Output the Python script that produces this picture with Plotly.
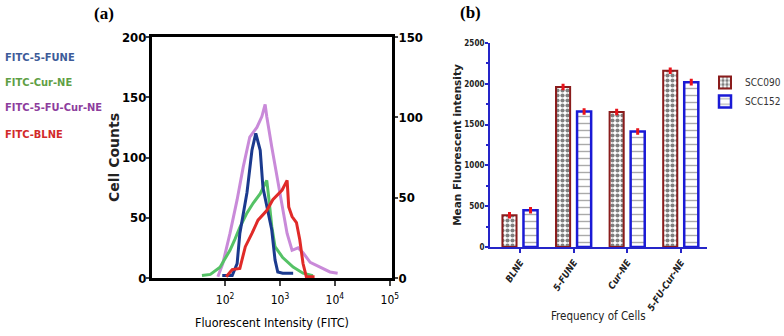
import plotly.graph_objects as go

# ---------------- Panel (a): flow cytometry histograms ----------------
blue_x = [89, 135, 166, 186, 251, 309, 363, 437, 490, 575, 708, 813, 912, 1122, 1738]
blue_y = [2, 2, 12, 37, 71, 106, 120, 106, 75, 59, 40, 15, 5, 4, 4]

green_x = [38, 54, 81, 123, 151, 186, 251, 324, 437, 537, 575, 631, 708, 813, 1122, 1738, 2630, 3981]
green_y = [2, 3, 9, 23, 32, 42, 54, 62, 70, 79, 81, 65, 43, 26, 17, 9, 4, 2]

purple_x = [74, 91, 123, 166, 214, 282, 380, 468, 537, 575, 708, 891, 1096, 1349, 1660, 2138, 2630, 3548, 5370, 8128, 11220]
purple_y = [1, 12, 37, 65, 92, 117, 125, 134, 144, 134, 109, 84, 59, 37, 23, 25, 21, 13, 9, 5, 4]

red_x = [105, 135, 186, 234, 309, 398, 575, 741, 1096, 1349, 1445, 1660, 1995, 2291, 2630, 3020, 4266]
red_y = [1, 7, 8, 26, 37, 48, 56, 65, 73, 81, 59, 51, 46, 32, 12, 1, 1]

series_names = ["FITC-5-FUNE", "FITC-Cur-NE", "FITC-5-FU-Cur-NE", "FITC-BLNE"]
series_x = [blue_x, green_x, purple_x, red_x]
series_y = [blue_y, green_y, purple_y, red_y]
line_colors = ["#1b3a8e", "#55c266", "#c98ad9", "#e02a28"]
label_colors = ["#3d5b99", "#5f9f45", "#8d3d9d", "#d22a2a"]
draw_order = [2, 1, 0, 3]

left_ticks = [0, 50, 100, 150, 200]
right_ticks = [0, 50, 100, 150]
x_tickvals = [100, 1000, 10000, 100000]
x_ticktext = ["10<sup>2</sup>", "10<sup>3</sup>", "10<sup>4</sup>", "10<sup>5</sup>"]

# ---------------- Panel (b): mean fluorescent intensity ----------------
categories = ["BLNE", "5-FUNE", "Cur-NE", "5-FU-Cur-NE"]
scc090 = [390, 1960, 1655, 2160]
scc152 = [450, 1660, 1415, 2020]
scc090_err = [22, 22, 22, 22]
scc152_err = [22, 22, 22, 22]
bar_ticks = [0, 500, 1000, 1500, 2000, 2500]

NARROW = "DejaVu Sans Condensed, Liberation Sans Narrow, Arial Narrow, sans-serif"
SERIF = "Liberation Serif, Times New Roman, serif"

fig = go.Figure()

for i in draw_order:
    fig.add_trace(go.Scatter(
        x=series_x[i], y=series_y[i], mode="lines", name=series_names[i],
        line=dict(color=line_colors[i], width=3), showlegend=False,
        xaxis="x", yaxis="y"))

# invisible trace for the right axis
fig.add_trace(go.Scatter(x=[1000], y=[0], mode="markers", marker=dict(opacity=0),
                         showlegend=False, hoverinfo="skip", xaxis="x", yaxis="y2"))

fig.add_trace(go.Bar(
    x=categories, y=scc090, name="SCC090", xaxis="x2", yaxis="y3",
    marker=dict(color="white", line=dict(color="#8a1c1c", width=2),
                pattern=dict(shape=".", fgcolor="black", bgcolor="white", size=5, solidity=0.55)),
    error_y=dict(type="data", array=scc090_err, color="#e8131b", thickness=3, width=1.5)))
fig.add_trace(go.Bar(
    x=categories, y=scc152, name="SCC152", xaxis="x2", yaxis="y3",
    marker=dict(color="white", line=dict(color="#1a1ad6", width=2.5),
                pattern=dict(shape="-", fgcolor="#555555", bgcolor="white", size=7, solidity=0.2)),
    error_y=dict(type="data", array=scc152_err, color="#e8131b", thickness=3, width=1.5)))

annotations = []
label_y = [57, 82, 108, 134]
for i, name in enumerate(series_names):
    annotations.append(dict(text="<b>%s</b>" % name, x=3 / 784, y=1 - label_y[i] / 336,
                            xref="paper", yref="paper", xanchor="left", yanchor="middle",
                            showarrow=False, font=dict(family=NARROW, size=11, color=label_colors[i])))
annotations.append(dict(text="<b>(a)</b>", x=104 / 784, y=1 - 14 / 336, xref="paper", yref="paper",
                        xanchor="center", yanchor="middle",
                        showarrow=False, font=dict(family=SERIF, size=17, color="black")))
annotations.append(dict(text="<b>(b)</b>", x=471 / 784, y=1 - 13 / 336, xref="paper", yref="paper",
                        xanchor="center", yanchor="middle",
                        showarrow=False, font=dict(family=SERIF, size=17, color="black")))
annotations.append(dict(text="Frequency of Cells", x=598 / 784, y=1 - 316 / 336, xref="paper", yref="paper",
                        xanchor="center", yanchor="middle",
                        showarrow=False, font=dict(family=NARROW, size=11.5, color="#222")))

BLUE = "#2525c8"

fig.update_layout(
    width=784, height=336, margin=dict(l=0, r=0, t=0, b=0, autoexpand=False),
    paper_bgcolor="white", plot_bgcolor="white",
    bargap=0.215, bargroupgap=0.33, barmode="group",
    annotations=annotations,
    xaxis=dict(domain=[152 / 784, 392 / 784], type="log", range=[0.67, 5.04],
               tickvals=x_tickvals, ticktext=x_ticktext, ticks="outside", ticklen=5, tickwidth=2,
               ticklabelstandoff=4,
               showline=True, linewidth=3, linecolor="black", mirror=True, showgrid=False, zeroline=False,
               tickfont=dict(family=NARROW, size=12, color="black"),
               title=dict(text="Fluorescent Intensity (FITC)", standoff=12,
                          font=dict(family=NARROW, size=12.5, color="black"))),
    yaxis=dict(domain=[1 - 278 / 336, 1 - 37 / 336], range=[0, 200], tickvals=left_ticks,
               ticks="outside", ticklen=3, tickwidth=2, showline=True, linewidth=3, linecolor="black",
               ticklabelstandoff=-3,
               showgrid=False, zeroline=False,
               tickfont=dict(family=NARROW, size=13, color="black", weight="bold"),
               title=dict(text="<b>Cell Counts</b>", standoff=0,
                          font=dict(family="DejaVu Sans", size=14, color="#222"))),
    yaxis2=dict(overlaying="y", side="right", anchor="x", range=[0, 150], tickvals=right_ticks,
                ticks="outside", ticklen=3, tickwidth=2, showline=True, linewidth=3, linecolor="black",
                ticklabelstandoff=-2,
                showgrid=False, zeroline=False,
                tickfont=dict(family=NARROW, size=13, color="black", weight="bold")),
    xaxis2=dict(domain=[490 / 784, 707 / 784], anchor="y3", range=[-0.56, 3.49],
                ticks="outside", ticklen=4, tickwidth=1.5, tickcolor=BLUE, tickangle=-57,
                showline=True, linewidth=2, linecolor=BLUE, showgrid=False, zeroline=False,
                tickfont=dict(family=NARROW, size=9.5, color="#222",
                              weight="bold", style="italic")),
    yaxis3=dict(domain=[1 - 247 / 336, 1 - 43 / 336], anchor="x2", range=[0, 2500], tickvals=bar_ticks,
                ticks="outside", ticklen=3, tickwidth=1.5, tickcolor=BLUE,
                ticklabelstandoff=-1,
                minor=dict(dtick=250, ticks="outside", ticklen=2, tickcolor=BLUE),
                showline=True, linewidth=2, linecolor=BLUE, showgrid=False, zeroline=False,
                tickfont=dict(family=NARROW, size=8, color="#222", weight="bold"),
                title=dict(text="<b>Mean Fluorescent intensity</b>", standoff=1,
                           font=dict(family="DejaVu Sans", size=10.5, color="#222"))),
    legend=dict(x=705 / 784, y=1 - 68 / 336, xanchor="left", yanchor="top",
                font=dict(family=NARROW, size=10, color="#333"), bgcolor="rgba(0,0,0,0)",
                tracegroupgap=6, itemwidth=30),
)

fig.write_html("out.html", config={"displayModeBar": False},
               post_script="document.body.style.margin='0px';")
